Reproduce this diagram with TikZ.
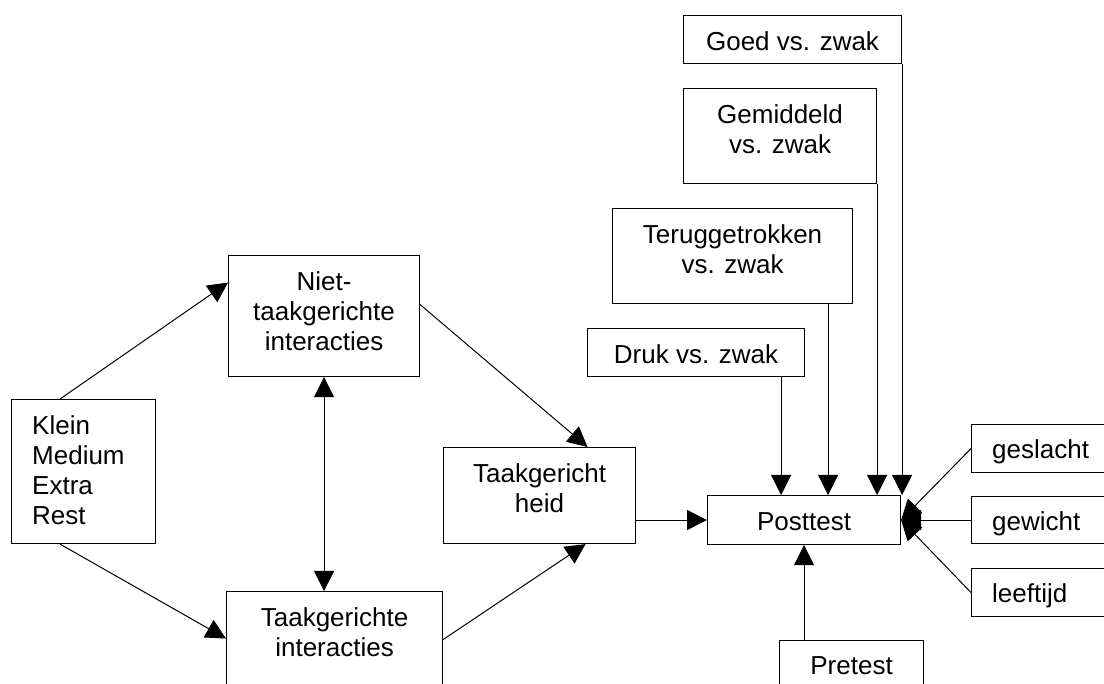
\documentclass[tikz,border=0pt]{standalone}
\usepackage{fontspec}
\setmainfont{Liberation Sans}
\usepackage{tikz}
\usetikzlibrary{arrows.meta}

\newcommand{\boxfont}{\fontsize{26}{30}\selectfont}
\newcommand{\tstrut}{\rule{0pt}{22pt}}

\begin{document}
\begin{tikzpicture}[
    x=1pt, y=-1pt,
    box/.style={draw, line width=1.1pt, inner sep=0pt, anchor=north west},
    txt/.style={anchor=north, inner sep=0pt, align=center, font=\boxfont},
    txtl/.style={anchor=north west, inner sep=0pt, align=left, font=\boxfont},
    link/.style={line width=1pt, -{Triangle[length=20pt,width=20pt]}},
    both/.style={line width=1pt, {Triangle[length=20pt,width=20pt]}-{Triangle[length=20pt,width=20pt]}},
]
\useasboundingbox (0,0) rectangle (1104,684);
\clip (0,0) rectangle (1104,684);

% =====================================================================
% Left part: groups and interactions
% =====================================================================
\node[box, minimum width=144pt, minimum height=144pt] (klein) at (11,399) {};
\node[txtl] (klein-t) at ([xshift=21pt,yshift=-13pt]klein.north west)
    {\tstrut Klein\\Medium\\Extra\\Rest};

\node[box, minimum width=191pt, minimum height=121pt] (niet) at (228,255) {};
\node[txt] (niet-t) at ([yshift=-13pt]niet.north) {\tstrut Niet-\\taakgerichte\\interacties};

\node[box, minimum width=216pt, minimum height=120pt] (ti) at (226,591) {};
\node[txt] (ti-t) at ([yshift=-13pt]ti.north) {\tstrut Taakgerichte\\interacties};

\node[box, minimum width=192pt, minimum height=96pt] (th) at (443,447) {};
\node[txt] (th-t) at ([yshift=-13pt]th.north) {\tstrut Taakgericht\\heid};

% =====================================================================
% Right part: posttest and its predictors
% =====================================================================
\node[box, minimum width=193pt, minimum height=49pt] (post) at (707,495) {};
\node[txt] (post-t) at ([yshift=-13pt]post.north) {\tstrut Posttest};

\node[box, minimum width=144pt, minimum height=80pt] (pre) at (779,640) {};
\node[txt] (pre-t) at ([yshift=-12pt]pre.north) {\tstrut Pretest};

\node[box, minimum width=217pt, minimum height=48pt] (druk) at (587,328) {};
\node[txt] (druk-t) at ([yshift=-13pt]druk.north) {\tstrut Druk vs. zwak};

\node[box, minimum width=240pt, minimum height=95pt] (terug) at (612,208) {};
\node[txt] (terug-t) at ([yshift=-13pt]terug.north) {\tstrut Teruggetrokken\\vs. zwak};

\node[box, minimum width=193pt, minimum height=95pt] (gem) at (683,88) {};
\node[txt] (gem-t) at ([yshift=-13pt]gem.north) {\tstrut Gemiddeld\\vs. zwak};

\node[box, minimum width=218pt, minimum height=48pt] (goed) at (683,15) {};
\node[txt] (goed-t) at ([yshift=-13pt]goed.north) {\tstrut Goed vs. zwak};

% background variables, cut off by the page edge
\node[box, minimum width=160pt, minimum height=48pt] (gesl) at (971,424) {};
\node[txtl] (gesl-t) at ([xshift=21pt,yshift=-12pt]gesl.north west) {\tstrut geslacht};
\node[box, minimum width=160pt, minimum height=47pt] (gew) at (971,496) {};
\node[txtl] (gew-t) at ([xshift=21pt,yshift=-12pt]gew.north west) {\tstrut gewicht};
\node[box, minimum width=160pt, minimum height=48pt] (leef) at (971,568) {};
\node[txtl] (leef-t) at ([xshift=21pt,yshift=-12pt]leef.north west) {\tstrut leeftijd};

% =====================================================================
% Connectors
% =====================================================================
\draw[link] ([xshift=49pt]klein.north west) -- ([yshift=33.5pt]niet.west);
\draw[link] ([xshift=49pt]klein.south west) -- ([yshift=13pt]ti.west);
\draw[both] (niet.south) -- (niet.south |- ti.north);
\draw[link] ([yshift=11.5pt]niet.east) -- ([xshift=48pt]th.north);
\draw[link] ([yshift=12pt]ti.east) -- ([xshift=46pt]th.south);
\draw[link] (th.east |- post.west) -- (post.west);

\coordinate (druk-out) at ([xshift=-24pt]druk.south east);
\coordinate (terug-out) at ([xshift=-25pt]terug.south east);
\draw[link] (druk-out) -- (druk-out |- post.north);
\draw[link] (terug-out) -- (terug-out |- post.north);
\draw[link] (gem.south east) -- (gem.south east |- post.north);
\draw[link] (goed.south east) -- (goed.south east |- post.north);

\draw[link] (pre.north -| post.south) -- (post.south);
\draw[link] (gesl.west) -- (post.east);
\draw[link] (gew.west) -- (post.east);
\draw[link] (leef.west) -- (post.east);

\end{tikzpicture}
\end{document}
